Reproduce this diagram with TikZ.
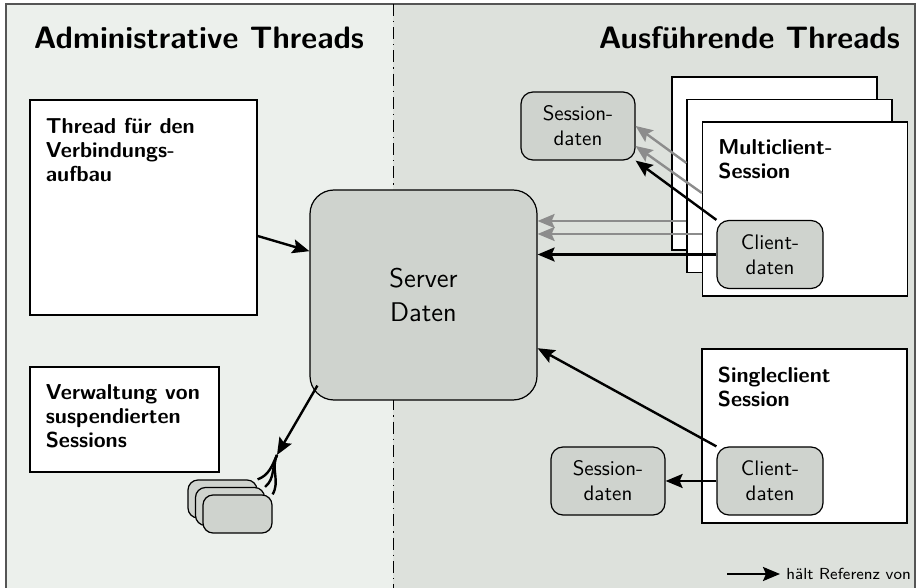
\documentclass[tikz,border=0pt]{standalone}
\usetikzlibrary{arrows.meta,positioning}
\renewcommand{\familydefault}{\sfdefault}
\definecolor{leftbg}{RGB}{236,240,236}
\definecolor{rightbg}{RGB}{221,225,220}
\definecolor{datgray}{RGB}{207,211,206}
\definecolor{refgrey}{RGB}{140,140,140}
\definecolor{framegrey}{RGB}{85,85,85}

\begin{document}
\begin{tikzpicture}[x=0.5pt, y=-0.5pt, >={Stealth[length=8.5pt,width=7pt,inset=1.5pt]},
  box/.style={draw, fill=white, line width=0.6pt, inner sep=0pt},
  dat/.style={draw, fill=datgray, line width=0.6pt, rounded corners=6pt, align=center, minimum width=53pt, minimum height=34pt, font=\fontsize{10.5}{12.5}\selectfont},
  boxtitle/.style={anchor=north west, align=left, inner sep=0pt, xshift=8pt, yshift=-9pt, font=\fontsize{10.8}{12}\selectfont\bfseries},
  title/.style={font=\fontsize{15.5}{18}\selectfont\bfseries},
  ref/.style={->, line width=1.2pt},
  refgray/.style={->, line width=1.2pt, draw=refgrey}]
\path[use as bounding box] (0,0) rectangle (917,588);
% Hintergrund und Trennlinie
\fill[leftbg] (6,4) rectangle (393,592);
\fill[rightbg] (393,4) rectangle (915,592);
\draw[line width=0.8pt, draw=framegrey] (6,592) -- (6,4) -- (915,4) -- (915,592);
\draw[line width=0.5pt, dash pattern=on 6pt off 2.5pt on 0.6pt off 2.5pt] (393,4) -- (393,592);
\node[title] (titleA) at (199,38) {Administrative Threads};
\node[title, anchor=east] (titleB) at (907,38) {Ausführende Threads};

% administrative Threads
\node[box, minimum width=113.5pt, minimum height=107.5pt, label={[boxtitle]north west:Thread für den\\Verbindungs-\\aufbau}] (thread) at (143.5,207.5) {};
\node[box, minimum width=94.5pt, minimum height=52.5pt, label={[boxtitle]north west:Verwaltung von\\suspendierten\\Sessions}] (verw) at (124.5,419.5) {};
\node[draw, fill=datgray, line width=0.6pt, rounded corners=12pt, minimum width=113.5pt, minimum height=105pt, align=center, font=\fontsize{13.5}{17}\selectfont] (server) at (423.5,295) {Server\\Daten};

% suspendierte Sessions
\node[dat, minimum width=34.5pt, minimum height=19pt, rounded corners=5pt] (suspA) at (222.5,499) {};
\node[dat, minimum width=34.5pt, minimum height=19pt, rounded corners=5pt] (suspB) at (230,506.5) {};
\node[dat, minimum width=34.5pt, minimum height=19pt, rounded corners=5pt] (suspC) at (237.5,514) {};

% Multiclient-Sessions
\node[box, minimum width=102.5pt, minimum height=86.5pt] (multiA) at (774.5,163.5) {};
\node[box, minimum width=102.5pt, minimum height=86.5pt] (multiB) at (789.5,186) {};
\node[box, minimum width=102.5pt, minimum height=87pt, label={[boxtitle]north west:Multiclient-\\Session}] (multiC) at (805,209) {};
\node[dat] (clientM) at (770,254.5) {Client-\\daten};
\node[dat, minimum width=57pt] (sessM) at (578,126) {Session-\\daten};

% Singleclient-Session
\node[box, minimum width=102.5pt, minimum height=87pt, label={[boxtitle]north west:Singleclient\\Session}] (single) at (804.5,436) {};
\node[dat] (clientS) at (770,481) {Client-\\daten};
\node[dat, minimum width=57pt] (sessS) at (608,481) {Session-\\daten};

% Referenzen
\coordinate (hidA) at ([yshift=11.5pt]multiB.west);
\coordinate (hidB) at ([yshift=8pt]multiC.west);
\coordinate (hidC) at ([yshift=-17.5pt]multiB.west);
\coordinate (hidD) at ([yshift=-12.5pt]multiC.west);
\draw[refgray] (hidA) -- (sessM.east);
\draw[refgray] (hidB) -- ([yshift=-10pt]sessM.east);
\draw[refgray] (hidC) -- (hidC -| server.east);
\draw[refgray] (hidD) -- (hidD -| server.east);
\draw[ref] (clientM.north west) -- (sessM.south east);
\draw[ref] (clientM.west) -- (clientM.west -| server.east);
\draw[ref] (clientS) -- (sessS);
\draw[ref] (clientS.north west) -- (server.-25);
\draw[ref] (thread.-14) -- (server.159);
\coordinate (fan) at (277,455);
\draw[ref] ([xshift=4pt,yshift=7.5pt]server.south west) -- (fan);
\foreach \s/\a in {suspA/20,suspB/40,suspC/60}
  \draw[line width=1.2pt] (fan) to[out=245,in=\a] (\s.north east);

% Legende
\node[anchor=west, font=\footnotesize, inner sep=0pt] (legend) at (786,574) {hält Referenz von};
\coordinate (legstart) at (727,574);
\draw[ref] (legstart) -- ([xshift=-3pt]legend.west);
\end{tikzpicture}
\end{document}
